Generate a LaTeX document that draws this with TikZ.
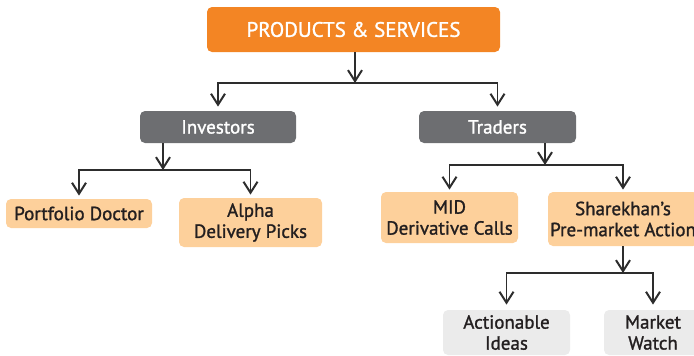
\documentclass[tikz,border=0pt]{standalone}
\usepackage{fontspec}
\setmainfont{PT Sans}[FakeBold=1.3]
\usetikzlibrary{arrows.meta}

\definecolor{brandorange}{RGB}{243,133,36}
\definecolor{groupgray}{RGB}{109,110,113}
\definecolor{itempeach}{RGB}{253,208,155}
\definecolor{leafgray}{RGB}{235,235,235}
\definecolor{inkdark}{RGB}{35,31,32}
\definecolor{linegray}{RGB}{45,45,45}

\tikzset{
    box/.style={rounded corners=2.5pt, align=center, inner sep=0pt,
        font=\fontsize{9.5}{10.5}\selectfont, text=inkdark},
    head/.style={box, fill=brandorange, text=white,
        font=\fontsize{10.5}{12}\selectfont},
    group/.style={box, fill=groupgray, text=white},
    item/.style={box, fill=itempeach},
    leaf/.style={box, fill=leafgray},
    link/.style={draw=linegray, line width=0.6pt,
        -{Straight Barb[length=5.5pt, width=7pt, line width=1pt]}},
}

\begin{document}
\begin{tikzpicture}[x=0.5pt, y=-0.5pt]
    \useasboundingbox (0,0) rectangle (694,355);
    \clip (0,0) rectangle (694,355);

    % Nodes
    \node[head, minimum width=146.5pt, minimum height=22.5pt] at (353.5, 29.5) (prod) {PRODUCTS \& SERVICES};
    \node[group, minimum width=78pt, minimum height=16pt] at (218, 127) (inv) {Investors};
    \node[group, minimum width=78.5pt, minimum height=16pt] at (497.5, 127) (trd) {Traders};

    \node[item, minimum width=73pt, minimum height=14.5pt] at (79, 213.5) (pfd) {Portfolio Doctor};
    \node[item, minimum width=71.5pt, minimum height=24.5pt] at (250.5, 222.5) (adp) {Alpha\\Delivery Picks};
    \node[item, minimum width=68.5pt, minimum height=25.5pt] at (449.5, 217.5) (mid) {MID\\Derivative Calls};
    \node[item, minimum width=75pt, minimum height=27pt] at (623, 219) (pma) {Sharekhan's\\Pre-market Action};

    \node[leaf, minimum width=63.5pt, minimum height=22.5pt] at (506.5, 332.5) (aci) {Actionable\\Ideas};
    \node[leaf, minimum width=49pt, minimum height=22.5pt] at (653, 332.5) (mkw) {Market\\Watch};

    % Junctions
    \coordinate (jprod) at (355, 83);
    \coordinate (jinv) at (163, 170);
    \coordinate (jtrd) at (545, 165);
    \coordinate (jpma) at (623, 273);

    % Edges
    \draw[link] (prod.south -| jprod) -- (jprod);
    \draw[link, shorten >=2pt] (jprod) -| (inv);
    \draw[link, shorten >=2pt] (jprod) -| (trd);

    \draw[link] (inv.south -| jinv) -- (jinv);
    \draw[link, shorten >=1.5pt] (jinv) -| (pfd);
    \draw[link, shorten >=1.5pt] (jinv) -| (adp);

    \draw[link] (trd.south -| jtrd) -- (jtrd);
    \draw[link, shorten >=1pt] (jtrd) -| (mid);
    \draw[link, shorten >=1pt] (jtrd) -| (pma);

    \draw[link] (pma.south -| jpma) -- (jpma);
    \draw[link, shorten >=2.5pt] (jpma) -| (aci);
    \draw[link, shorten >=2.5pt] (jpma) -| (mkw);
\end{tikzpicture}
\end{document}
